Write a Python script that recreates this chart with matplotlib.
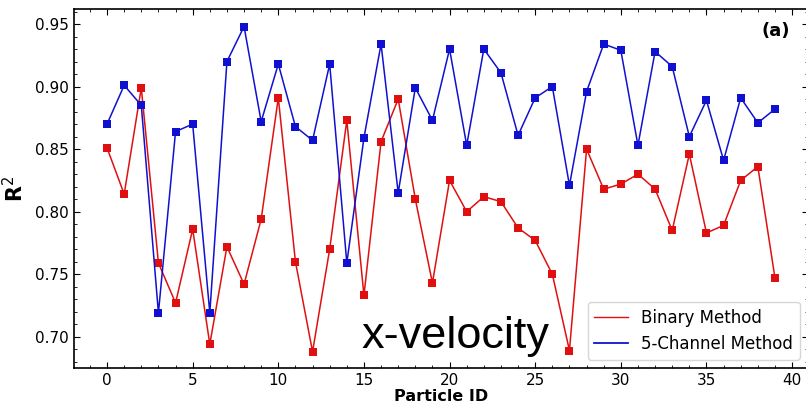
import matplotlib
matplotlib.use("Agg")
import matplotlib.pyplot as plt
from matplotlib.ticker import AutoMinorLocator, MultipleLocator
from matplotlib.lines import Line2D

particle_ids = list(range(40))
binary_method = [0.851, 0.814, 0.899, 0.759, 0.727, 0.786, 0.694, 0.772, 0.742, 0.794,
                 0.891, 0.760, 0.688, 0.770, 0.873, 0.733, 0.856, 0.890, 0.810, 0.743,
                 0.825, 0.800, 0.812, 0.808, 0.787, 0.777, 0.750, 0.689, 0.850, 0.818,
                 0.822, 0.830, 0.818, 0.785, 0.846, 0.783, 0.789, 0.825, 0.836, 0.747]
five_channel = [0.870, 0.901, 0.885, 0.719, 0.864, 0.870, 0.719, 0.920, 0.948, 0.872,
                0.918, 0.868, 0.857, 0.918, 0.759, 0.859, 0.934, 0.815, 0.899, 0.873,
                0.930, 0.853, 0.930, 0.911, 0.861, 0.891, 0.900, 0.821, 0.896, 0.934,
                0.929, 0.853, 0.928, 0.916, 0.860, 0.889, 0.841, 0.891, 0.871, 0.882]

red = '#e01010'
blue = '#1010d0'

fig = plt.figure(figsize=(8.06, 4.08), dpi=100)
ax = fig.add_axes([0.0918, 0.098, 0.9107, 0.879])

ax.plot(particle_ids, binary_method, color=red, marker='s', markersize=5.5,
        linewidth=1.1, markeredgewidth=0)
ax.plot(particle_ids, five_channel, color=blue, marker='s', markersize=5.5,
        linewidth=1.1, markeredgewidth=0)

ax.set_xlim(-1.93, 40.93)
ax.set_ylim(0.675, 0.9617)
ax.xaxis.set_major_locator(MultipleLocator(5))
ax.yaxis.set_major_locator(MultipleLocator(0.05))
ax.xaxis.set_minor_locator(AutoMinorLocator(5))
ax.yaxis.set_minor_locator(AutoMinorLocator(5))
ax.tick_params(which='both', direction='in', top=True, right=True, labelsize=11)
ax.tick_params(which='major', length=4)
ax.tick_params(which='minor', length=2)
ax.yaxis.set_major_formatter(matplotlib.ticker.FormatStrFormatter('%.2f'))
for s in ax.spines.values():
    s.set_linewidth(1.2)

ax.set_xlabel('Particle ID', fontsize=11.5, fontweight='bold', labelpad=1)
ax.set_ylabel(r'$\mathbf{R}^2$', fontsize=15, labelpad=6)

handles = [Line2D([], [], color=red, linewidth=1.0),
           Line2D([], [], color=blue, linewidth=1.3)]
ax.legend(handles, ['Binary Method', '5-Channel Method'], loc='lower right',
          fontsize=12, handlelength=2.0, borderaxespad=0.5,
          fancybox=True, framealpha=0.8)

ax.text(0.975, 0.965, '(a)', transform=ax.transAxes, fontsize=13, fontweight='bold',
        ha='right', va='top')
ax.text(362, 408 - 348, 'x-velocity', transform=None, fontsize=32.5,
        family='Liberation Sans', ha='left', va='baseline', zorder=5)

fig.savefig('out.png', dpi=100)
